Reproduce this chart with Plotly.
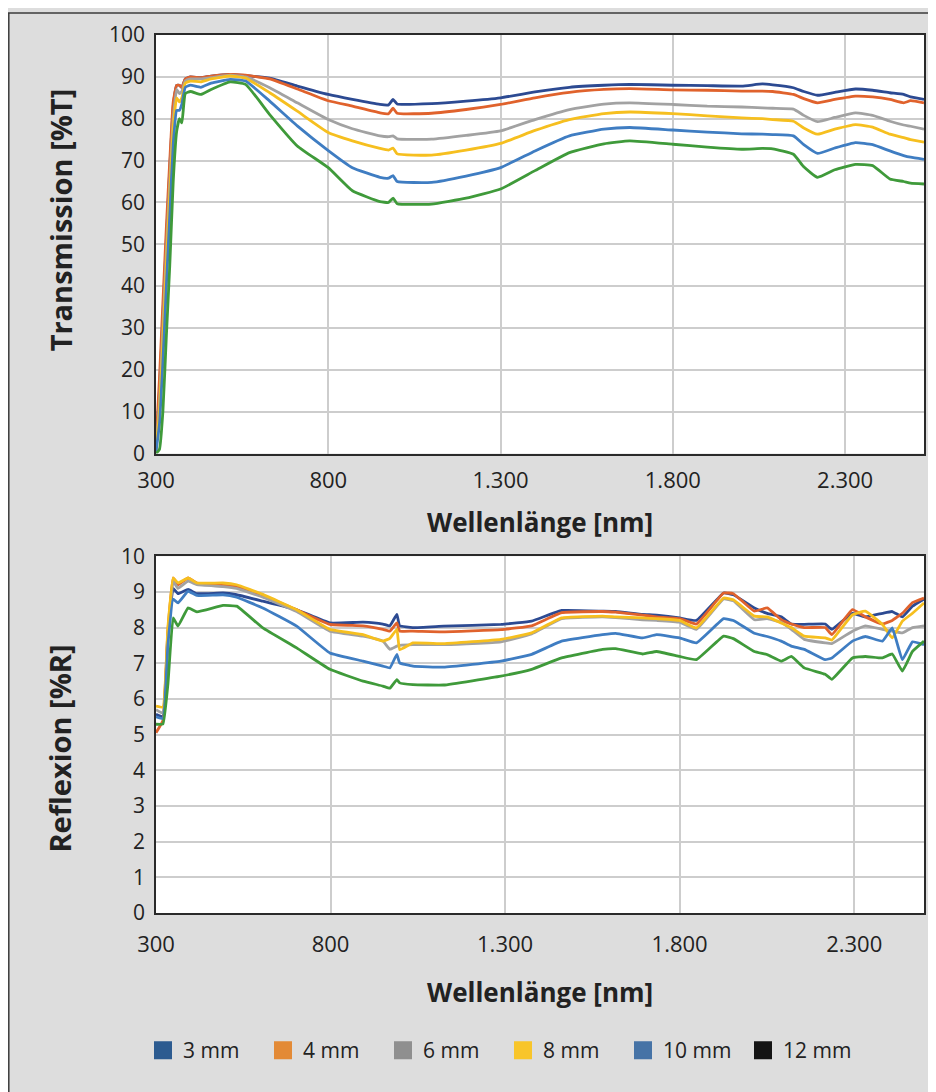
import plotly.graph_objects as go

# ---------------- data ----------------
series_names = ["3 mm", "4 mm", "6 mm", "8 mm", "10 mm", "12 mm"]
line_colors = ["#2c4a92", "#e0622c", "#a2a2a2", "#f6bf1f", "#3f7dc2", "#3f9a3a"]
legend_colors = ["#2c5b90", "#e38a36", "#8f8f8f", "#f8c52a", "#4673a6", "#141414"]

x_ticks = [300, 800, 1300, 1800, 2300]
x_ticklabels = ["300", "800", "1.300", "1.800", "2.300"]

wl_T = [300, 310, 320, 330, 340, 350, 360, 368, 375, 385, 400, 430, 460, 515, 560, 630, 710, 800,
        870, 950, 975, 988, 1000, 1100, 1200, 1300, 1400, 1500, 1600, 1675, 1800, 1900, 2000, 2060,
        2090, 2150, 2180, 2220, 2270, 2330, 2380, 2430, 2470, 2490, 2529]
T_3 = [1, 15, 33, 51, 68, 83, 88, 88, 87.5, 89.5, 90, 89.8, 90.2, 90.6, 90.3, 89.7, 87.8, 85.8,
       84.6, 83.4, 83.3, 84.6, 83.5, 83.6, 84.2, 85, 86.4, 87.5, 88, 88.2, 88, 87.9, 87.8, 88.3,
       88.1, 87.4, 86.5, 85.6, 86.3, 87.1, 86.8, 86.2, 85.8, 85.2, 84.6]
T_4 = [2, 18, 36, 54, 70, 84, 88, 88, 87.5, 89.5, 90, 89.8, 90.2, 90.6, 90.4, 89.5, 87.1, 84.3,
       83, 81.4, 81.2, 82.5, 81.3, 81.3, 82.2, 83.4, 85, 86.3, 87, 87.2, 86.9, 86.8, 86.6, 86.6,
       86.5, 85.8, 84.8, 83.8, 84.6, 85.4, 85.2, 84.6, 83.8, 84.3, 83.8]
T_6 = [1, 12, 30, 48, 65, 80, 87, 86, 86.5, 89, 89.5, 89.5, 89.8, 90.4, 90, 87.4, 83.8, 79.8,
       77.6, 75.9, 75.7, 75.9, 75.2, 75.1, 76, 77.1, 79.8, 82.2, 83.5, 83.8, 83.4, 83, 82.8, 82.6,
       82.5, 82.3, 80.8, 79.3, 80.3, 81.4, 80.8, 79.4, 78.5, 78.2, 77.5]
T_8 = [1, 10, 27, 45, 62, 78, 85, 84, 85, 88.5, 89, 88.8, 89.5, 90.2, 89.7, 86.2, 81.8, 76.7,
       74.7, 72.9, 72.5, 73, 71.6, 71.3, 72.5, 74.1, 77.2, 79.8, 81.2, 81.6, 81.2, 80.7, 80.2, 80,
       79.8, 79.4, 77.8, 76.3, 77.5, 78.6, 78, 76.3, 75.5, 75, 74.4]
T_10 = [0.5, 7, 22, 40, 57, 74, 82, 82, 83.5, 87.5, 88, 87.5, 88.5, 89.4, 89, 84.2, 78.3, 72.4,
        68.3, 66, 65.8, 66.4, 65, 64.8, 66.3, 68.3, 72.3, 75.9, 77.5, 77.9, 77.3, 76.8, 76.4, 76.3,
        76.2, 75.9, 73.8, 71.7, 73, 74.3, 73.8, 72.3, 71.2, 70.8, 70.3]
T_12 = [0, 1, 10, 28, 45, 65, 77, 80, 79, 86, 86.5, 85.8, 87, 88.8, 88.2, 81, 73.5, 68.3,
        62.8, 60.2, 60, 61, 59.7, 59.6, 61, 63.2, 67.6, 71.9, 74, 74.7, 73.9, 73.2, 72.7, 72.9,
        72.8, 71.5, 68.5, 66, 67.8, 69.1, 68.8, 65.6, 65, 64.6, 64.4]

wl_R = [300, 320, 334, 349, 363, 392, 417, 492, 531, 606, 703, 798, 893, 950, 970, 990, 998, 1036,
        1124, 1288, 1376, 1462, 1579, 1617, 1694, 1734, 1800, 1848, 1926, 1954, 2014, 2051, 2091,
        2120, 2157, 2217, 2236, 2295, 2332, 2381, 2409, 2438, 2467, 2500]
R_3 = [5.57, 5.5, 7.8, 9.1, 8.95, 9.07, 8.95, 8.97, 8.92, 8.74, 8.5, 8.13, 8.15, 8.1, 8.05, 8.37,
       8.05, 8.0, 8.04, 8.09, 8.18, 8.48, 8.46, 8.45, 8.37, 8.35, 8.27, 8.2, 8.97, 8.92, 8.55, 8.4,
       8.3, 8.1, 8.09, 8.1, 7.95, 8.4, 8.3, 8.4, 8.45, 8.3, 8.6, 8.8]
R_4 = [5.05, 5.4, 7.9, 9.39, 9.2, 9.39, 9.25, 9.2, 9.15, 8.9, 8.5, 8.09, 8.05, 7.95, 7.9, 8.13,
       7.9, 7.9, 7.88, 7.94, 8.05, 8.42, 8.45, 8.43, 8.35, 8.3, 8.25, 8.1, 8.97, 8.95, 8.46, 8.55,
       8.22, 8.1, 8.0, 8.0, 7.8, 8.5, 8.3, 8.1, 8.2, 8.4, 8.7, 8.83]
R_6 = [5.7, 5.6, 7.7, 9.3, 9.1, 9.3, 9.2, 9.15, 9.1, 8.85, 8.45, 7.9, 7.76, 7.62, 7.39, 7.48,
       7.5, 7.52, 7.52, 7.6, 7.82, 8.25, 8.3, 8.28, 8.22, 8.2, 8.15, 7.95, 8.8, 8.75, 8.22, 8.25,
       8.15, 7.95, 7.67, 7.57, 7.55, 7.9, 8.05, 7.95, 7.9, 7.85, 8.0, 8.05]
R_8 = [5.8, 5.77, 8.0, 9.39, 9.25, 9.39, 9.25, 9.25, 9.2, 8.93, 8.5, 7.95, 7.8, 7.62, 7.7, 7.95,
       7.38, 7.57, 7.55, 7.67, 7.85, 8.27, 8.32, 8.3, 8.27, 8.25, 8.2, 7.99, 8.83, 8.78, 8.32, 8.3,
       8.13, 8.0, 7.76, 7.71, 7.65, 8.36, 8.46, 8.09, 7.71, 8.18, 8.4, 8.69]
R_10 = [5.5, 5.45, 7.5, 8.8, 8.69, 9.02, 8.9, 8.92, 8.85, 8.55, 8.04, 7.29, 7.06, 6.92, 6.87, 7.25,
        7.01, 6.92, 6.89, 7.06, 7.25, 7.62, 7.8, 7.84, 7.71, 7.8, 7.71, 7.57, 8.25, 8.2, 7.84, 7.75,
        7.62, 7.48, 7.39, 7.1, 7.15, 7.62, 7.75, 7.62, 7.99, 7.1, 7.6, 7.52]
R_12 = [5.29, 5.3, 6.4, 8.27, 8.04, 8.55, 8.44, 8.62, 8.6, 7.99, 7.43, 6.83, 6.5, 6.36, 6.3, 6.54,
        6.45, 6.4, 6.39, 6.64, 6.83, 7.15, 7.39, 7.41, 7.26, 7.33, 7.19, 7.1, 7.76, 7.69, 7.33, 7.24,
        7.06, 7.19, 6.87, 6.69, 6.55, 7.15, 7.19, 7.15, 7.26, 6.78, 7.33, 7.62]

T_series = [T_3, T_4, T_6, T_8, T_10, T_12]
R_series = [R_3, R_4, R_6, R_8, R_10, R_12]

# ---------------- figure ----------------
# page has an 8px body margin; positions below are given in page pixels
OFF = 8
W, H = 936, 1092
ML, MR, MT, MB = 148, 20, 24, 187
PW, PH = W - ML - MR, H - MT - MB


def px_x(px):
    return (px - OFF - ML) / PW


def px_y(py):
    return (H - MB - (py - OFF)) / PH


FONT = "Open Sans, Noto Sans, sans-serif"
TXT = "#222222"

fig = go.Figure()
for name, col, ys in zip(series_names, line_colors, T_series):
    fig.add_trace(go.Scatter(x=wl_T, y=ys, mode="lines", name=name, showlegend=False,
                             line=dict(color=col, width=2.8, shape="spline", smoothing=0.4),
                             xaxis="x", yaxis="y"))
for name, col, ys in zip(series_names, line_colors, R_series):
    fig.add_trace(go.Scatter(x=wl_R, y=ys, mode="lines", name=name, showlegend=False,
                             line=dict(color=col, width=2.8, shape="spline", smoothing=0.3),
                             xaxis="x2", yaxis="y2"))
for name, col in zip(series_names, legend_colors):
    fig.add_trace(go.Scatter(x=[None], y=[None], mode="markers", name=name, showlegend=True,
                             marker=dict(symbol="square", size=16, color=col,
                                         line=dict(color=col, width=2)),
                             xaxis="x2", yaxis="y2"))

axis_common = dict(showgrid=True, gridcolor="#cdcdcd", gridwidth=1.5, zeroline=False,
                   showline=True, linecolor="#2a2a2a", linewidth=1.5, mirror=True,
                   ticks="outside", tickcolor="rgba(0,0,0,0)")
xfont = dict(family=FONT, size=22, color=TXT)
yfont = dict(family=FONT, size=21, color=TXT)

fig.update_layout(
    width=W, height=H,
    margin=dict(l=ML, r=MR, t=MT, b=MB),
    paper_bgcolor="#dddddd", plot_bgcolor="#ffffff",
    font=dict(family=FONT, color=TXT),
    xaxis=dict(domain=[0, 1], anchor="y", range=[300, 2529], tickvals=x_ticks,
               ticktext=x_ticklabels, ticklen=6, tickfont=xfont, **axis_common),
    yaxis=dict(domain=[px_y(452), 1], anchor="x", range=[0, 100], tickvals=list(range(0, 101, 10)),
               ticklen=5, tickfont=yfont, **axis_common),
    xaxis2=dict(domain=[0, 1], anchor="y2", range=[300, 2500], tickvals=x_ticks,
                ticktext=x_ticklabels, ticklen=11, tickfont=xfont, **axis_common),
    yaxis2=dict(domain=[0, px_y(555)], anchor="x2", range=[0, 10], tickvals=list(range(0, 11)),
                ticklen=5, tickfont=yfont, **axis_common),
    showlegend=True,
    legend=dict(orientation="h", x=px_x(143), xanchor="left", y=px_y(1051), yanchor="middle",
                entrywidth=75, entrywidthmode="pixels", bgcolor="rgba(0,0,0,0)",
                font=dict(family=FONT, size=21, color=TXT), itemclick=False, traceorder="normal"),
)

ann = [
    dict(text="<b>Wellenlänge [nm]</b>", x=px_x(540), y=px_y(521), size=26),
    dict(text="<b>Wellenlänge [nm]</b>", x=px_x(540), y=px_y(992), size=26),
    dict(text="<b>Transmission [%T]</b>", x=px_x(60), y=px_y(218), textangle=-90, size=29),
    dict(text="<b>Reflexion [%R]</b>", x=px_x(60), y=px_y(748), textangle=-90, size=29),
]
for a in ann:
    size = a.pop("size")
    fig.add_annotation(xref="paper", yref="paper", showarrow=False, xanchor="center",
                       yanchor="middle", font=dict(family=FONT, size=size, color=TXT), **a)

# outer frame (top and left edges visible)
fig.add_shape(type="line", xref="paper", yref="paper", x0=px_x(8), x1=px_x(960),
              y0=px_y(10), y1=px_y(10), line=dict(color="#3a3a3a", width=1.5))
fig.add_shape(type="line", xref="paper", yref="paper", x0=px_x(8.8), x1=px_x(8.8),
              y0=px_y(10), y1=px_y(1110), line=dict(color="#3a3a3a", width=1.5))

fig.write_html("out.html")
